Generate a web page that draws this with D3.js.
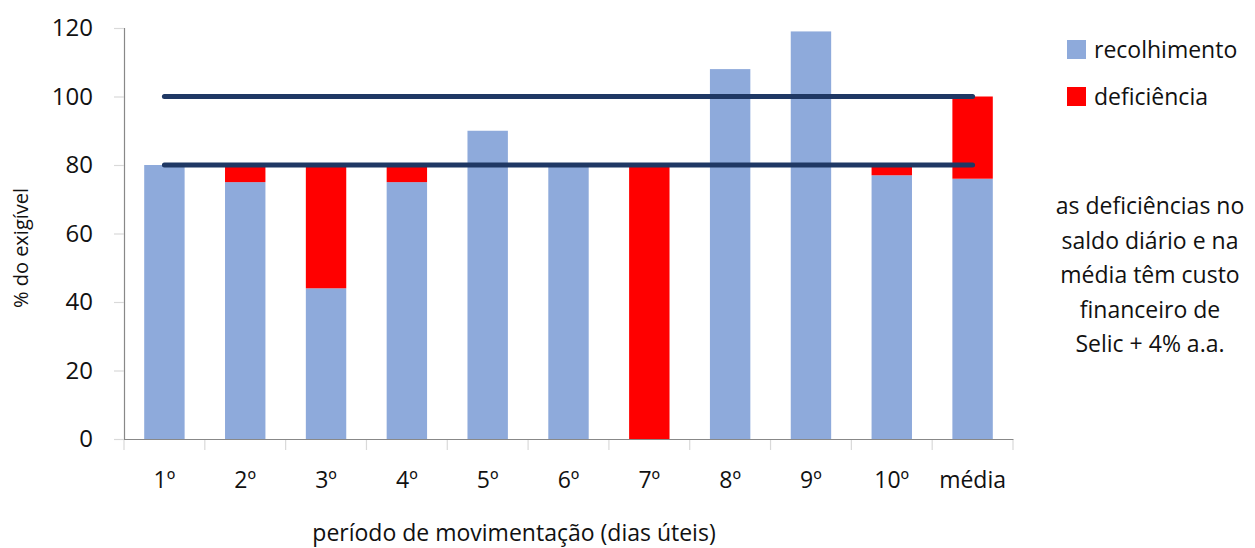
<!DOCTYPE html>
<html>
<head>
<meta charset="utf-8">
<script src="https://cdn.jsdelivr.net/npm/d3@7"></script>
<style>
  body { margin: 0; background: #fff; }
  text { font-family: "Open Sans", "Noto Sans", sans-serif; fill: #111; }
</style>
</head>
<body>
<div id="viz"></div>
<script>
const categories = ["1º", "2º", "3º", "4º", "5º", "6º", "7º", "8º", "9º", "10º", "média"];
const recolhimento = [80, 75, 44, 75, 90, 80, 0, 108, 119, 77, 76];
const deficiencia = [0, 5, 36, 5, 0, 0, 80, 0, 0, 3, 24];
const refLines = [100, 80];
const yTicks = [0, 20, 40, 60, 80, 100, 120];
const noteLines = ["as deficiências no", "saldo diário e na", "média têm custo", "financeiro de", "Selic + 4% a.a."];

const svg = d3.select("#viz").append("svg")
  .attr("width", 1255)
  .attr("height", 548);

const x = d3.scaleBand()
  .domain(categories)
  .range([124, 1013])
  .paddingInner(0.5)
  .paddingOuter(0.25);

const xTicksScale = d3.scaleBand().domain(categories).range([124, 1013]);

const y = d3.scaleLinear()
  .domain([0, 120])
  .range([439, 28]);

// y axis
const yAxis = svg.append("g")
  .attr("transform", "translate(124,0)")
  .call(d3.axisLeft(y).tickValues(yTicks).tickSize(10).tickPadding(21));
yAxis.select(".domain").attr("stroke", "#888").attr("stroke-width", 1.2);
yAxis.selectAll(".tick line").attr("stroke", "#d9d9d9").attr("stroke-width", 1.2);
yAxis.selectAll(".tick text").style("font-size", "24px").attr("fill", "#111");

// bars
const rows = categories.map((c, i) => ({c, r: recolhimento[i], d: deficiencia[i]}));

svg.selectAll("rect.rec")
  .data(rows)
  .enter().append("rect")
  .attr("class", "rec")
  .attr("x", d => x(d.c))
  .attr("width", x.bandwidth())
  .attr("y", d => y(d.r))
  .attr("height", d => y(0) - y(d.r))
  .attr("fill", "#8eaadb");

svg.selectAll("rect.def")
  .data(rows.filter(d => d.d > 0))
  .enter().append("rect")
  .attr("class", "def")
  .attr("x", d => x(d.c))
  .attr("width", x.bandwidth())
  .attr("y", d => y(d.r + d.d))
  .attr("height", d => y(d.r) - y(d.r + d.d))
  .attr("fill", "#ff0000");

// x axis
const xAxis = svg.append("g")
  .attr("transform", "translate(0,439)")
  .call(d3.axisBottom(xTicksScale).tickSize(0).tickPadding(33));
xAxis.select(".domain").attr("stroke", "#888").attr("stroke-width", 1.2);
xAxis.selectAll(".tick text").style("font-size", "23px").attr("fill", "#111");

// category separators
const bounds = categories.map(c => xTicksScale(c)).concat([1013]);
svg.selectAll("line.sep")
  .data(bounds)
  .enter().append("line")
  .attr("class", "sep")
  .attr("x1", d => d).attr("x2", d => d)
  .attr("y1", 440).attr("y2", 450)
  .attr("stroke", "#d9d9d9")
  .attr("stroke-width", 1.2);

// reference lines
const xFirst = x(categories[0]) + x.bandwidth() / 2;
const xLast = x(categories[categories.length - 1]) + x.bandwidth() / 2;
svg.selectAll("line.ref")
  .data(refLines)
  .enter().append("line")
  .attr("class", "ref")
  .attr("x1", xFirst).attr("x2", xLast)
  .attr("y1", d => y(d)).attr("y2", d => y(d))
  .attr("stroke", "#1f3864")
  .attr("stroke-width", 5)
  .attr("stroke-linecap", "round");

// axis titles
svg.append("text")
  .attr("transform", "translate(28,248) rotate(-90)")
  .attr("text-anchor", "middle")
  .style("font-size", "20px")
  .text("% do exigível");

svg.append("text")
  .attr("x", 514)
  .attr("y", 541)
  .attr("text-anchor", "middle")
  .style("font-size", "23px")
  .text("período de movimentação (dias úteis)");

// legend
const legend = [
  {label: "recolhimento", color: "#8eaadb"},
  {label: "deficiência", color: "#ff0000"}
];
const lg = svg.selectAll("g.leg")
  .data(legend)
  .enter().append("g")
  .attr("class", "leg")
  .attr("transform", (d, i) => `translate(1067,${40 + i * 47})`);
lg.append("rect").attr("width", 19).attr("height", 19).attr("fill", d => d.color);
lg.append("text").attr("x", 27).attr("y", 18).style("font-size", "23px").text(d => d.label);

// note
svg.append("g").selectAll("text")
  .data(noteLines)
  .enter().append("text")
  .attr("x", 1150)
  .attr("y", (d, i) => 214 + i * 34.5)
  .attr("text-anchor", "middle")
  .style("font-size", "23px")
  .text(d => d);
</script>
</body>
</html>
